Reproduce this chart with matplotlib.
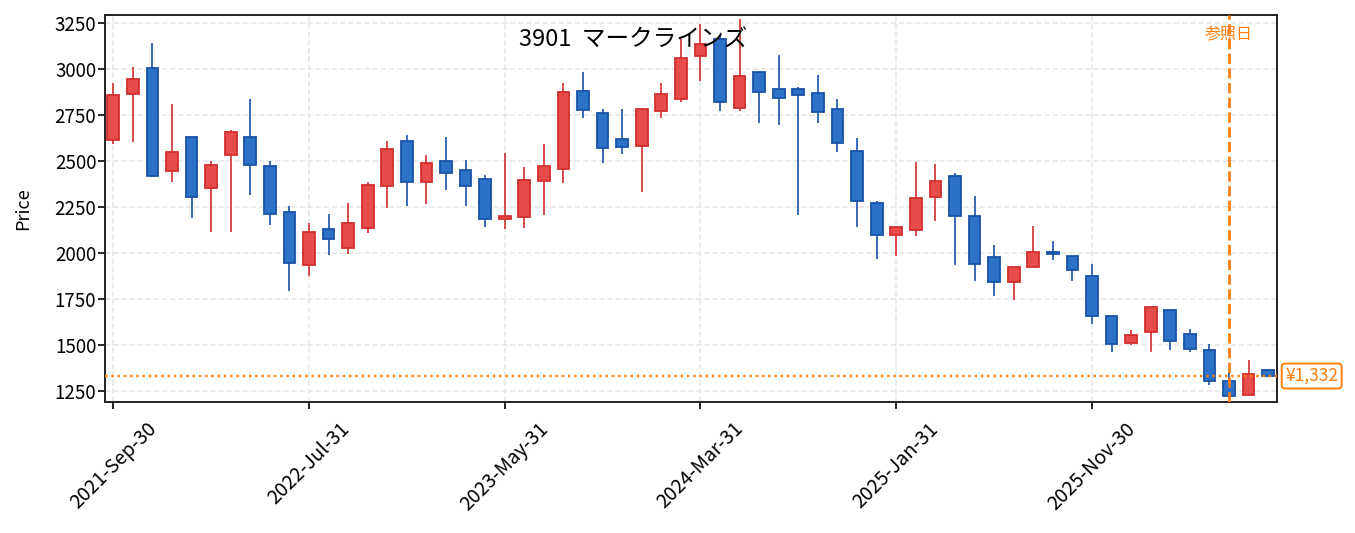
import pandas as pd
import matplotlib
matplotlib.use("Agg")
import matplotlib.pyplot as plt
import matplotlib.transforms as mtransforms

plt.rcParams['font.family'] = ['Noto Sans CJK JP', 'DejaVu Sans']

TITLE = "3901  マークラインズ"
REF_LABEL = "参照日"
REF_INDEX = 57
LAST_PRICE = 1332

# monthly candles
opens = [2614, 2862, 3006, 2445, 2632, 2352, 2533, 2632, 2470, 2221,
         1937, 2128, 2029, 2136, 2365, 2609, 2387, 2497, 2448, 2399,
         2186, 2195, 2390, 2455, 2882, 2761, 2616, 2582, 2771, 2835,
         3069, 3163, 2786, 2985, 2892, 2892, 2871, 2780, 2556, 2269,
         2100, 2127, 2305, 2416, 2203, 1977, 1845, 1923, 2004, 1982,
         1874, 1657, 1513, 1570, 1693, 1560, 1473, 1305, 1227, 1365]
highs = [2921, 3008, 3138, 2808, 2632, 2497, 2665, 2835, 2499, 2255,
         2163, 2213, 2271, 2385, 2607, 2640, 2531, 2629, 2504, 2423,
         2542, 2466, 2591, 2923, 2983, 2782, 2782, 2786, 2923, 3160,
         3243, 3183, 3268, 2985, 3075, 2900, 2965, 2836, 2625, 2284,
         2148, 2493, 2484, 2434, 2309, 2045, 1923, 2148, 2067, 1985,
         1941, 1660, 1581, 1705, 1693, 1588, 1507, 1350, 1420, 1365]
lows = [2593, 2600, 2415, 2383, 2188, 2112, 2112, 2313, 2150, 1793,
        1877, 1988, 1997, 2107, 2242, 2253, 2266, 2340, 2253, 2139,
        2128, 2134, 2204, 2378, 2730, 2486, 2535, 2329, 2735, 2822,
        2936, 2768, 2768, 2703, 2697, 2204, 2703, 2546, 2139, 1968,
        1982, 2091, 2172, 1933, 1847, 1765, 1744, 1923, 1961, 1847,
        1617, 1464, 1500, 1464, 1473, 1464, 1281, 1226, 1227, 1332]
closes = [2855, 2947, 2419, 2546, 2305, 2475, 2654, 2479, 2213, 1948,
          2112, 2078, 2161, 2367, 2567, 2387, 2486, 2435, 2365, 2186,
          2199, 2394, 2470, 2876, 2777, 2571, 2576, 2780, 2864, 3059,
          3136, 2820, 2963, 2874, 2842, 2858, 2764, 2596, 2284, 2100,
          2139, 2296, 2389, 2203, 1942, 1845, 1923, 2004, 1997, 1910,
          1657, 1504, 1557, 1705, 1522, 1477, 1305, 1226, 1344, 1332]

dates = pd.date_range("2021-09-30", periods=len(opens), freq="ME")

UP_FILL, UP_EDGE = "#e84b4b", "#d12f2f"
DN_FILL, DN_EDGE = "#2b71c7", "#1a52a8"
ORANGE = "#ff7f0e"


def main():
    fig = plt.figure(figsize=(13.55, 5.33), dpi=100)
    ax = fig.add_axes([0.0775, 0.2458, 0.8649, 0.7261])

    xs = list(range(len(opens)))
    for x, o, h, l, c in zip(xs, opens, highs, lows, closes):
        up = c >= o
        fill = UP_FILL if up else DN_FILL
        edge = UP_EDGE if up else DN_EDGE
        ax.vlines(x, l, h, color=edge, linewidth=1.2, zorder=2)
        body = max(abs(c - o), 4)
        ax.bar(x, body, bottom=min(o, c), width=0.6, color=fill,
               edgecolor=edge, linewidth=1.3, zorder=3)

    ax.set_xlim(-0.42, len(opens) - 0.55)
    ax.set_ylim(1191, 3292)
    ax.set_yticks(range(1250, 3251, 250))

    ticks = xs[::10]
    ax.set_xticks(ticks)
    ax.set_xticklabels([dates[i].strftime("%Y-%b-%d") for i in ticks],
                       rotation=45, ha="center", fontsize=14)
    ax.tick_params(axis="both", length=4.8, width=1.2)
    ax.tick_params(axis="x", pad=7)
    ax.tick_params(axis="y", labelsize=13.5, pad=1.5)
    ax.set_ylabel("Price", fontsize=13)
    ax.yaxis.set_label_coords(-0.0625, 0.5)

    ax.grid(True, linestyle="--", color="#e6e6e6", linewidth=1.1, zorder=0)
    ax.set_axisbelow(True)
    for s in ax.spines.values():
        s.set_linewidth(1.4)
        s.set_color("#222222")

    # last price line and tag
    ax.axhline(LAST_PRICE, color=ORANGE, linestyle=":", linewidth=1.7, zorder=4)
    trans = mtransforms.blended_transform_factory(ax.transAxes, ax.transData)
    ax.text(1.007, LAST_PRICE, f"¥{LAST_PRICE:,}", transform=trans,
            ha="left", va="center", color=ORANGE, fontsize=12.5,
            bbox=dict(boxstyle="round,pad=0.2", fc="white", ec=ORANGE, lw=1.4),
            clip_on=False)

    # reference date
    ax.axvline(REF_INDEX, color=ORANGE, linestyle="--", linewidth=2, zorder=4)
    trans2 = mtransforms.blended_transform_factory(ax.transData, ax.transAxes)
    ax.text(REF_INDEX, 0.948, REF_LABEL, transform=trans2, ha="center",
            va="center", color=ORANGE, fontsize=11.5, zorder=5)

    ax.text(0.451, 0.935, TITLE, transform=ax.transAxes, ha="center",
            va="center", fontsize=17, zorder=6)

    fig.savefig("out.png", dpi=100)
    plt.close(fig)


if __name__ == "__main__":
    main()
